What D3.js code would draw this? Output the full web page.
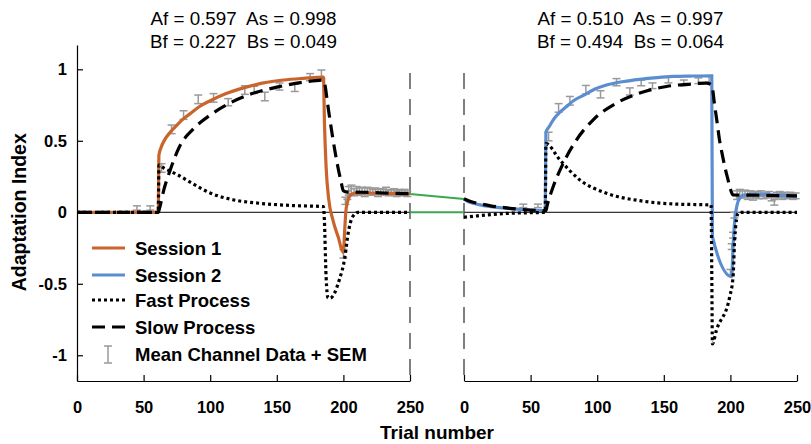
<!DOCTYPE html>
<html lang="en">
<head>
    <style>
        body { margin: 0; background: #fff; }
        svg { display: block; }
        text { font-family: "Liberation Sans", Arial, sans-serif; }
    </style>
</head>
<body>
    <svg width="811" height="444"></svg>
    <script src="https://cdn.jsdelivr.net/npm/d3@7"></script>
    <script>
        // ---------------- data ----------------
        // [trial, adaptation index]
        const s1Total = [[0,0],[61,0],[61.5,0.40],[63,0.45],[66,0.51],[70,0.56],[75,0.61],[80,0.655],[85,0.69],[92,0.74],[100,0.78],[112,0.83],[125,0.87],[140,0.905],[155,0.925],[170,0.937],[185,0.946],[185.8,0.62],[187,0.32],[189,0.09],[192,-0.05],[196,-0.17],[200,-0.28],[201,-0.12],[202,0.02],[204,0.1],[206,0.125],[209,0.135],[220,0.135],[235,0.132],[250,0.128]];
        const s1Slow = [[0,0],[61,0],[62,0.03],[65,0.15],[70,0.296],[77,0.46],[87,0.58],[100,0.68],[115,0.765],[130,0.825],[150,0.875],[170,0.91],[185,0.925],[186,0.9],[188,0.77],[190,0.64],[192,0.52],[194,0.41],[196,0.31],[198,0.225],[200,0.15],[202,0.142],[215,0.14],[230,0.135],[250,0.13]];
        const s1Fast = [[0,0],[61,0],[61.5,0.33],[65,0.31],[75,0.265],[87,0.2],[100,0.135],[117,0.088],[137,0.063],[162,0.047],[185,0.04],[185.7,-0.05],[187,-0.45],[188.5,-0.6],[190,-0.6],[197,-0.47],[201,-0.32],[203.5,-0.15],[207,-0.03],[211,0],[250,0]];

        const s2Total = [[0,0.092],[3,0.075],[7,0.063],[13,0.05],[20,0.04],[30,0.03],[40,0.022],[50,0.016],[61,0.012],[61.5,0.56],[64,0.6],[67,0.647],[72,0.70],[77,0.74],[83,0.785],[90,0.82],[98,0.86],[107,0.89],[120,0.915],[132,0.93],[145,0.942],[157,0.95],[170,0.953],[186,0.955],[186.5,-0.17],[201,-0.45],[202,-0.24],[203.3,-0.054],[205,0.05],[207,0.1],[210,0.12],[220,0.125],[235,0.12],[250,0.11]];
        const s2Slow = [[0,0.095],[5,0.075],[12,0.06],[20,0.045],[30,0.033],[42,0.021],[55,0.013],[61.5,0.012],[62.5,0.05],[67,0.18],[74.5,0.343],[84.5,0.507],[97,0.647],[114.5,0.764],[132,0.834],[152,0.88],[170,0.897],[182,0.904],[186,0.89],[188,0.76],[190,0.63],[192,0.495],[194,0.4],[196,0.31],[198,0.235],[199.5,0.18],[202,0.121],[215,0.12],[250,0.115]];
        const s2Fast = [[0,-0.035],[10,-0.025],[20,-0.016],[32,-0.008],[45,-0.004],[61,0],[61.5,0.48],[72,0.366],[87,0.226],[107,0.133],[132,0.081],[157,0.058],[185.5,0.051],[186,-0.4],[186.5,-0.92],[189.5,-0.825],[199.5,-0.59],[202,-0.45],[203.3,-0.17],[205.8,-0.007],[208,0],[250,0]];

        // [trial, mean, sem]
        const s1Data = [[45,0.03,0.015],[55,0.03,0.015],[63.5,0.31,0.03],[71,0.58,0.03],[80,0.68,0.03],[91,0.79,0.03],[102.5,0.80,0.03],[113.5,0.77,0.025],[126,0.855,0.03],[133,0.857,0.025],[141,0.81,0.03],[152,0.88,0.025],[163.5,0.87,0.025],[175,0.945,0.025],[183.5,0.965,0.03],
            [200,-0.29,0.03],[201.5,0.08,0.025],[203,0.12,0.03],[204,0.15,0.03],[206,0.16,0.03],[208,0.14,0.025],[210,0.15,0.03],[212,0.145,0.025],[214,0.15,0.025],[216,0.14,0.03],[218,0.155,0.02],[220,0.145,0.025],[222,0.14,0.02],[224,0.15,0.02],[226,0.135,0.025],[228,0.145,0.02],[230,0.14,0.02],[232,0.15,0.025],[234,0.135,0.02],[236,0.14,0.02],[238,0.145,0.02],[240,0.13,0.02],[242,0.14,0.02],[244,0.135,0.02],[246,0.14,0.02],[248,0.13,0.02]];
        const s2Data = [[44.5,0.045,0.012],[55.5,0.045,0.012],[63.5,0.53,0.03],[71,0.73,0.03],[79.5,0.78,0.03],[91.5,0.857,0.03],[102.5,0.825,0.025],[114.5,0.91,0.025],[124.5,0.845,0.025],[133,0.905,0.02],[141.5,0.885,0.02],[153.5,0.925,0.02],[165,0.905,0.02],[176,0.92,0.02],[184,0.93,0.02],
            [200,-0.42,0.02],[201,-0.24,0.02],[202,-0.16,0.02],[203,-0.02,0.02],[205,0.12,0.03],[207,0.13,0.03],[209,0.125,0.025],[211,0.13,0.025],[213,0.12,0.03],[215,0.125,0.025],[217,0.11,0.025],[219,0.125,0.02],[221,0.12,0.025],[223,0.13,0.02],[225,0.115,0.02],[227,0.12,0.02],[229,0.125,0.02],[231,0.1,0.02],[233,0.07,0.02],[235,0.12,0.02],[237,0.125,0.02],[239,0.11,0.02],[241,0.12,0.02],[243,0.115,0.02],[245,0.12,0.02],[247,0.11,0.02],[249,0.115,0.02]];

        // between-session decay: [left-panel trial, value] -> [right-panel trial, value]
        const gapTotal = [[250,0.128],[0,0.093]];
        const gapFast = [[250,0],[0,0]];

        const params1 = ["Af = 0.597  As = 0.998", "Bf = 0.227  Bs = 0.049"];
        const params2 = ["Af = 0.510  As = 0.997", "Bf = 0.494  Bs = 0.064"];
        const xTicks = [0, 50, 100, 150, 200, 250];
        const yTicks = [-1, -0.5, 0, 0.5, 1];
        const legendItems = ["Session 1", "Session 2", "Fast Process", "Slow Process", "Mean Channel Data + SEM"];

        // ---------------- layout ----------------
        const svg = d3.select("svg");
        const orange = "#c9652c", blue = "#5b8dd0", green = "#3aa84f", grey = "#9a9a9a";

        const xL = d3.scaleLinear().domain([0, 250]).range([77, 410]);
        const xR = d3.scaleLinear().domain([0, 250]).range([464, 797]);
        const y = d3.scaleLinear().domain([-1.18, 1.17]).range([381, 45]);

        // axes
        svg.append("g").attr("transform", "translate(77,0)")
            .call(d3.axisLeft(y).tickValues(yTicks).tickFormat(d => String(d))
                .tickSizeInner(-6).tickSizeOuter(0).tickPadding(10));
        [xL, xR].forEach(x => {
            svg.append("g").attr("transform", "translate(0,381)")
                .call(d3.axisBottom(x).tickValues(xTicks).tickFormat(d => String(d))
                    .tickSizeInner(-6).tickSizeOuter(0).tickPadding(20));
        });
        svg.selectAll(".tick text").attr("font-size", 16.5).attr("font-weight", "bold")
            .attr("font-family", "Liberation Sans, Arial, sans-serif").attr("fill", "#000");
        svg.selectAll(".domain, .tick line").attr("stroke", "#000").attr("stroke-width", 1.2);

        // zero lines
        [xL, xR].forEach(x => {
            svg.append("line").attr("x1", x(0)).attr("x2", x(250))
                .attr("y1", y(0)).attr("y2", y(0)).attr("stroke", "#000").attr("stroke-width", 1);
        });

        // session break dashed lines
        [xL(250), xR(0)].forEach(px => {
            svg.append("line").attr("x1", px).attr("x2", px).attr("y1", 73).attr("y2", 378)
                .attr("stroke", "#555").attr("stroke-width", 1.5).attr("stroke-dasharray", "16,10");
        });

        // green connectors
        [gapTotal, gapFast].forEach(g => {
            svg.append("line").attr("x1", xL(g[0][0])).attr("y1", y(g[0][1]))
                .attr("x2", xR(g[1][0])).attr("y2", y(g[1][1]))
                .attr("stroke", green).attr("stroke-width", 2);
        });

        // error bars
        function errorBars(data, x) {
            const g = svg.append("g").attr("stroke", grey).attr("stroke-width", 1.5);
            data.forEach(d => {
                const px = x(d[0]), top = y(d[1] + d[2]), bot = y(d[1] - d[2]);
                g.append("line").attr("x1", px).attr("x2", px).attr("y1", top).attr("y2", bot);
                g.append("line").attr("x1", px - 4).attr("x2", px + 4).attr("y1", top).attr("y2", top);
                g.append("line").attr("x1", px - 4).attr("x2", px + 4).attr("y1", bot).attr("y2", bot);
            });
        }
        errorBars(s1Data, xL);
        errorBars(s2Data, xR);

        // model curves
        function curve(data, x, color, dash) {
            const line = d3.line().x(d => x(d[0])).y(d => y(d[1])).curve(d3.curveMonotoneX);
            svg.append("path").datum(data).attr("d", line).attr("fill", "none")
                .attr("stroke", color).attr("stroke-width", 3.2)
                .attr("stroke-dasharray", dash);
        }
        curve(s1Total, xL, orange, null);
        curve(s2Total, xR, blue, null);
        curve(s1Slow, xL, "#000", "13,7");
        curve(s2Slow, xR, "#000", "13,7");
        curve(s1Fast, xL, "#000", "3,3");
        curve(s2Fast, xR, "#000", "3,3");

        // parameter titles
        [[params1, xL], [params2, xR]].forEach(([p, x]) => {
            p.forEach((t, i) => {
                svg.append("text").attr("x", (x(0) + x(250)) / 2).attr("y", 25 + i * 23)
                    .attr("text-anchor", "middle").attr("font-size", 18.8)
                    .style("white-space", "pre").text(t);
            });
        });

        // axis titles
        svg.append("text").attr("x", (xL(0) + xR(250)) / 2).attr("y", 439)
            .attr("text-anchor", "middle").attr("font-size", 19).attr("font-weight", "bold")
            .text("Trial number");
        svg.append("text").attr("transform", `translate(26,${y(0)}) rotate(-90)`)
            .attr("text-anchor", "middle").attr("font-size", 19.5).attr("font-weight", "bold")
            .text("Adaptation Index");

        // legend
        const legendY = [248, 275, 300, 327, 354];
        const legendStyles = [[orange, null], [blue, null], ["#000", "3,3"], ["#000", "13,7"]];
        legendItems.forEach((name, i) => {
            const ly = legendY[i];
            if (i < 4) {
                svg.append("line").attr("x1", 92).attr("x2", 125).attr("y1", ly).attr("y2", ly)
                    .attr("stroke", legendStyles[i][0]).attr("stroke-width", 3.2)
                    .attr("stroke-dasharray", legendStyles[i][1]);
            } else {
                const g = svg.append("g").attr("stroke", grey).attr("stroke-width", 1.5);
                g.append("line").attr("x1", 108).attr("x2", 108).attr("y1", ly - 8).attr("y2", ly + 9);
                g.append("line").attr("x1", 104).attr("x2", 112).attr("y1", ly - 8).attr("y2", ly - 8);
                g.append("line").attr("x1", 104).attr("x2", 112).attr("y1", ly + 9).attr("y2", ly + 9);
            }
            svg.append("text").attr("x", 135).attr("y", ly + 6.5)
                .attr("font-size", 18.5).attr("font-weight", "bold").text(name);
        });
    </script>
</body>
</html>
